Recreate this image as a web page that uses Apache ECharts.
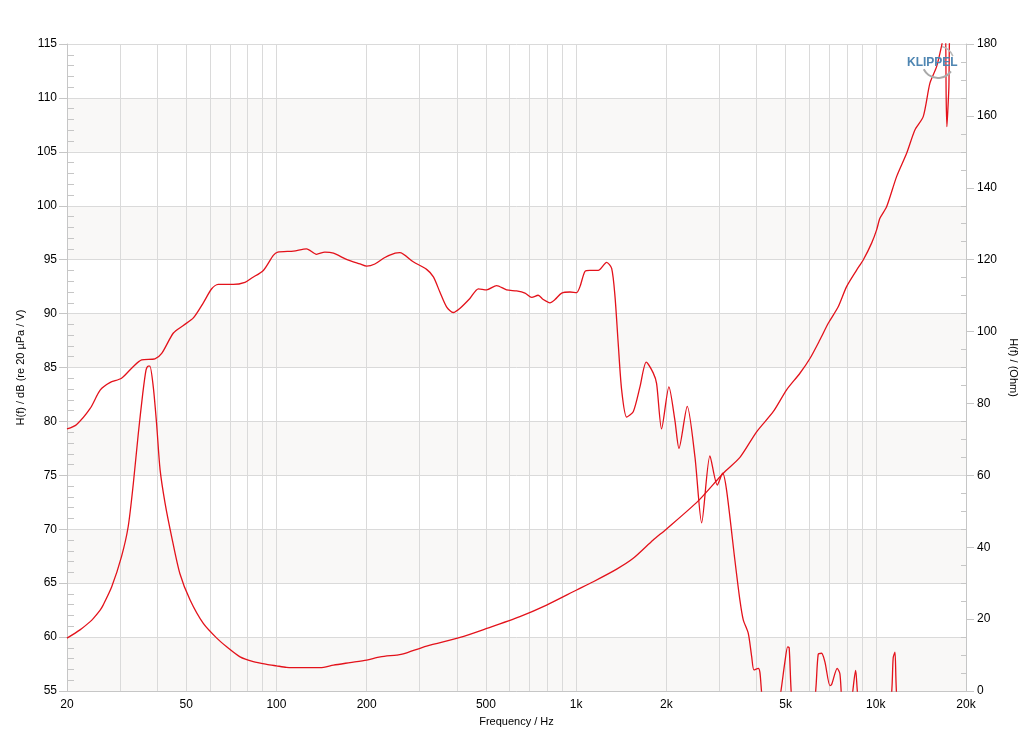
<!DOCTYPE html>
<html>
<head>
<meta charset="utf-8">
<script src="https://cdn.jsdelivr.net/npm/echarts@6/dist/echarts.min.js"></script>
<style>
html,body{margin:0;padding:0;background:#fff;}
#chart{width:1034px;height:748px;}
</style>
</head>
<body>
<div id="chart"></div>
<script>
// ---- Data ----
// Sound pressure response, left axis (dB)
const splFreq = [20, 21.5, 23.9, 25.8, 27.8, 30.4, 33.3, 35.5, 39.3, 41.4, 45.3, 48.9, 52.8, 57.0, 60.8, 63.9, 71.8, 78.5, 82.7, 90.4, 97.6, 101, 114, 126, 136, 145, 155, 172, 190, 200, 213, 230, 249, 258, 286, 317, 334, 351, 370, 389, 410, 442, 472, 503, 543, 586, 633, 675, 711, 747, 777, 818, 850, 895, 954, 1004, 1030, 1070, 1112, 1185, 1264, 1314, 1348, 1382, 1419, 1475, 1551, 1633, 1714, 1808, 1856, 1928, 2040, 2136, 2204, 2349, 2492, 2624, 2796, 2958, 3083, 3178, 3388, 3521, 3612, 3754, 3853, 3922, 4053, 4106, 4190, 4434, 4760, 4974, 5080, 5140, 5250, 5582, 6240, 6424, 6594, 6764, 7030, 7122, 7436, 7590, 7710, 7948, 8290, 8564, 8760, 9932, 11210, 11432, 11584, 11790, 12998, 15158, 20000];
const splDb = [79.3, 79.7, 81.2, 82.9, 83.6, 84.0, 85.1, 85.7, 85.8, 86.3, 88.2, 88.9, 89.6, 91.0, 92.3, 92.7, 92.7, 92.9, 93.3, 94.0, 95.4, 95.7, 95.8, 96.0, 95.5, 95.7, 95.6, 95.0, 94.6, 94.4, 94.6, 95.2, 95.6, 95.65, 94.8, 94.1, 93.4, 92.0, 90.6, 90.1, 90.5, 91.4, 92.3, 92.2, 92.6, 92.2, 92.1, 91.9, 91.5, 91.7, 91.3, 91.0, 91.3, 91.9, 92.0, 91.95, 92.5, 93.9, 94.0, 94.0, 94.75, 94.2, 91.6, 87.2, 82.9, 80.4, 80.9, 83.2, 85.5, 84.5, 83.5, 79.3, 83.2, 80.1, 77.5, 81.4, 76.7, 70.6, 76.8, 74.1, 75.2, 73.6, 67.1, 63.4, 61.6, 60.35, 58.2, 56.95, 57.1, 56.7, 54.0, 51.0, 54.0, 57.7, 59.1, 59.0, 54.0, 50.0, 54.0, 58.4, 58.5, 57.7, 55.5, 55.6, 57.1, 56.6, 54.0, 52.0, 54.0, 56.9, 54.0, 49.0, 54.0, 58.1, 58.6, 54.0, 49.0, 47.0, 45.0];

// Electrical impedance, right axis (Ohm)
const impFreq = [20, 22.1, 23.9, 24.5, 25.8, 26.4, 28.2, 30.4, 32.0, 33.3, 34.6, 35.8, 36.7, 37.3, 37.8, 38.8, 39.8, 40.9, 42.5, 44.7, 47.6, 51.5, 57.0, 63.2, 68.2, 75.6, 83.7, 92.8, 100, 108, 120, 140, 155, 176, 200, 222, 252, 265, 317, 410, 503, 649, 797, 1004, 1141, 1366, 1551, 1808, 2004, 2556, 3098, 3521, 4002, 4546, 5040, 5582, 6028, 6510, 6940, 7492, 7990, 8630, 9078, 9684, 10064, 10322, 10866, 11734, 12674, 13506, 14396, 15158, 15956, 16578, 16878, 17072, 17174, 17270, 17402, 17536, 17700, 19200, 20000];
const impOhm = [14.7, 17.0, 19.3, 20.2, 22.5, 23.9, 29.0, 37.4, 45.7, 57.8, 71.7, 82.8, 89.3, 90.4, 90.4, 84.7, 74.5, 61.5, 52.2, 42.9, 32.7, 25.3, 18.8, 14.7, 12.3, 9.5, 8.15, 7.4, 7.0, 6.6, 6.5, 6.5, 7.2, 7.9, 8.6, 9.5, 10.0, 10.3, 12.5, 14.9, 17.4, 20.7, 23.9, 28.1, 30.4, 33.9, 36.9, 42.0, 45.1, 52.9, 60.6, 65.0, 72.1, 77.7, 83.8, 88.4, 92.5, 97.7, 102.3, 106.9, 112.5, 117.1, 119.9, 124.6, 128.3, 131.5, 134.7, 143.1, 149.6, 156.1, 159.8, 169.1, 173.7, 179.5, 183, 186, 165, 157, 162, 168, 185, 195, 198];

// Axis tick values
const xGridFreqs = [20, 30, 40, 50, 60, 70, 80, 90, 100, 200, 300, 400, 500, 600, 700, 800, 900, 1000, 2000, 3000, 4000, 5000, 6000, 7000, 8000, 9000, 10000, 20000];
const xLabelFreqs = [20, 50, 100, 200, 500, 1000, 2000, 5000, 10000, 20000];

const axisGray = '#c6c6c6';
const gridGray = '#dadada';
const red = '#e3121b';
const font = 'Liberation Sans, Arial, sans-serif';

const chart = echarts.init(document.getElementById('chart'));
chart.setOption({
  animation: false,
  backgroundColor: '#ffffff',
  textStyle: { fontFamily: font },
  grid: { left: 67, right: 68, top: 44, bottom: 57, containLabel: false },
  xAxis: {
    type: 'log', logBase: 10, min: 20, max: 20000,
    name: 'Frequency / Hz', nameLocation: 'middle', nameGap: 25,
    nameTextStyle: { fontSize: 11, color: '#000', fontFamily: font },
    axisLine: { show: true, lineStyle: { color: axisGray, width: 1 } },
    axisTick: { show: false, customValues: xGridFreqs },
    axisLabel: {
      customValues: xLabelFreqs, fontSize: 12, color: '#000', margin: 8, fontFamily: font,
      formatter: v => v >= 1000 ? (v / 1000) + 'k' : String(v)
    },
    splitLine: { show: true, lineStyle: { color: gridGray, width: 1 } }
  },
  yAxis: [
    {
      type: 'value', min: 55, max: 115, interval: 5, position: 'left',
      name: 'H(f) / dB (re 20 µPa / V)', nameLocation: 'middle', nameGap: 39, nameRotate: 90,
      nameTextStyle: { fontSize: 11, color: '#000', fontFamily: font },
      axisLine: { show: true, lineStyle: { color: axisGray } },
      axisTick: { show: true, length: 8, lineStyle: { color: axisGray } },
      minorTick: { show: true, splitNumber: 5, length: -7, lineStyle: { color: axisGray } },
      axisLabel: { fontSize: 12, color: '#000', margin: 10, fontFamily: font },
      splitLine: { show: true, lineStyle: { color: gridGray } },
      splitArea: { show: true, areaStyle: { color: ['#f9f8f7', '#ffffff'] } }
    },
    {
      type: 'value', min: 0, max: 180, interval: 20, position: 'right',
      name: 'H(f) / (Ohm)', nameLocation: 'middle', nameGap: 40, nameRotate: -90,
      nameTextStyle: { fontSize: 11, color: '#000', fontFamily: font },
      axisLine: { show: true, lineStyle: { color: axisGray } },
      axisTick: { show: true, length: 8, lineStyle: { color: axisGray } },
      minorTick: { show: true, splitNumber: 4, length: -5, lineStyle: { color: axisGray } },
      axisLabel: { fontSize: 12, color: '#000', margin: 11, fontFamily: font },
      splitLine: { show: false }
    }
  ],
  series: [
    {
      name: 'SPL', type: 'line', yAxisIndex: 0, z: 3,
      data: splFreq.map((f, i) => [f, splDb[i]]),
      showSymbol: false, symbol: 'none', smooth: 0.25, clip: true,
      lineStyle: { color: red, width: 1.3 }
    },
    {
      name: 'Impedance', type: 'line', yAxisIndex: 1, z: 3,
      data: impFreq.map((f, i) => [f, impOhm[i]]),
      showSymbol: false, symbol: 'none', smooth: 0.25, clip: true,
      lineStyle: { color: red, width: 1.3 }
    }
  ],
  graphic: [
    {
      type: 'arc', z: 10,
      shape: { cx: 938, cy: 62, r: 16, startAngle: Math.PI * 0.2, endAngle: Math.PI * 0.85 },
      style: { stroke: '#a9a9a9', lineWidth: 2, fill: null }
    },
    {
      type: 'arc', z: 10,
      shape: { cx: 938, cy: 62, r: 16, startAngle: -Math.PI * 0.42, endAngle: -Math.PI * 0.12 },
      style: { stroke: '#b8b8b8', lineWidth: 1.5, fill: null }
    },
    {
      type: 'text', left: 907, top: 57, z: 11,
      style: { text: 'KLIPPEL', fill: '#4f86b2', font: 'bold 12px "Liberation Sans", Arial, sans-serif' }
    }
  ]
});
</script>
</body>
</html>
